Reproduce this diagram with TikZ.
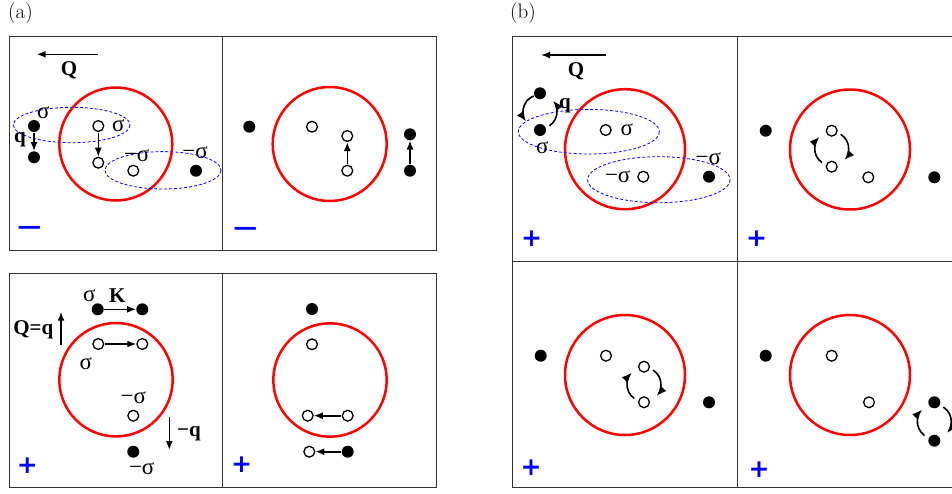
\documentclass[tikz,border=0pt]{standalone}
\usepackage{fontspec}
\newfontfamily\lblfont{Liberation Serif}
\newfontfamily\signfont{DejaVu Sans}
\usetikzlibrary{arrows.meta}

\begin{document}
\begin{tikzpicture}[x=1pt,y=-1pt,
  panel/.style={draw=black!80, line width=1pt},
  ring/.style={draw=red, line width=2.5pt},
  zone/.style={draw=blue, dash pattern=on 3pt off 2pt, line width=0.8pt},
  full/.style={circle, fill=black, minimum size=12pt, inner sep=0pt},
  hollow/.style={circle, draw=black, fill=white, line width=1.3pt, minimum size=10.8pt, inner sep=0pt},
  mv/.style={-{Latex[length=9pt,width=7pt]}, line width=1.6pt, shorten <=0.5pt},
  turn/.style={-{Latex[length=10pt,width=8pt]}, line width=1.6pt},
  lab/.style={font=\lblfont\fontsize{23}{23}\selectfont, inner sep=0pt},
  blab/.style={font=\lblfont\bfseries\fontsize{21}{21}\selectfont, inner sep=0pt},
  plus/.style={text=blue, font=\signfont\bfseries\fontsize{25}{25}\selectfont, inner sep=0pt},
  minus/.style={text=blue, font=\signfont\fontsize{34}{34}\selectfont, inner sep=0pt},
  tag/.style={font=\fontsize{21}{21}\selectfont, inner sep=0pt},
  spincw/.pic={
    \draw[turn] (-235:17) arc[start angle=-235, end angle=-136, radius=17];
    \draw[turn] (-58:17) arc[start angle=-58, end angle=42, radius=17];
  },
  spinccw/.pic={
    \draw[turn] (-112:17) arc[start angle=-112, end angle=-215, radius=17];
    \draw[turn] (56:17) arc[start angle=56, end angle=-40, radius=17];
  },
]
\useasboundingbox (0,0) rectangle (952,493);
\clip (0,0) rectangle (952,493);

% part labels
\node[tag] (ta) at (20.5,13) {(a)};
\node[tag] (tb) at (523,13) {(b)};

% frames of the panels
\draw[panel] (9,36.7) rectangle (436.7,250.7);
\draw[panel] (222.7,36.7) -- (222.7,250.7);
\draw[panel] (9,273.3) rectangle (436.7,487.3);
\draw[panel] (222.7,273.3) -- (222.7,487.3);
\draw[panel] (512.3,36.7) rectangle (962,487.3);
\draw[panel] (737.3,36.7) -- (737.3,487.3);
\draw[panel] (512.3,261.7) -- (962,261.7);

% ---------- (a), upper left ----------
\coordinate (aQs) at (98.3,54.3);
\coordinate (aQe) at (36.7,54.3);
\draw[mv] (aQs) -- (aQe);
\node[blab] (aQ) at (69,70) {Q};
\draw[ring] (115.8,144) circle[radius=56.5];
\draw[zone] (71.7,125) ellipse[x radius=58.3, y radius=17.7];
\draw[zone] (163,170.3) ellipse[x radius=58, y radius=18.7];
\node[full] (a1) at (34,126) {};
\node[full] (a2) at (34,157.3) {};
\draw[mv] (a1) -- (a2);
\node[lab] (as1) at (43.3,112.7) {σ};
\node[blab] (aq) at (20,140) {q};
\node[hollow] (b1) at (98.3,126) {};
\node[hollow] (b2) at (98.3,162.7) {};
\node[hollow] (b3) at (133.3,170.7) {};
\draw[mv] (b1) -- (b2);
\node[lab] (as2) at (118.3,126) {σ};
\node[lab] (as3) at (136.7,155.7) {−σ};
\node[full] (a3) at (196,170.7) {};
\node[lab] (as4) at (195,152.7) {−σ};
\node[minus] (am1) at (30,232.7) {−};

% ---------- (a), upper right ----------
\draw[ring] (329.7,144) circle[radius=57];
\node[full] (c0) at (249.3,126.7) {};
\node[hollow] (c3) at (312,126.7) {};
\node[hollow] (c1) at (347.3,136) {};
\node[hollow] (c2) at (347.3,170.7) {};
\draw[mv] (c2) -- (c1);
\node[full] (d1) at (410,134.3) {};
\node[full] (d2) at (410,170.7) {};
\draw[mv] (d2) -- (d1);
\node[minus] (am2) at (245.3,233) {−};

% ---------- (a), lower left ----------
\node[lab] (es1) at (89.3,296) {σ};
\node[blab] (eK) at (117.3,296) {K};
\node[full] (e1) at (97.7,309.3) {};
\node[full] (e2) at (142.3,309.3) {};
\draw[mv] (e1) -- (e2);
\node[blab] (eQq) at (33.3,329.3) {Q=q};
\coordinate (eUs) at (61,345);
\coordinate (eUe) at (61,311.7);
\draw[mv] (eUs) -- (eUe);
\draw[ring] (116,379.7) circle[radius=56.7];
\node[hollow] (f1) at (98.3,344) {};
\node[hollow] (f2) at (142.3,344) {};
\draw[mv] (f1) -- (f2);
\node[lab] (es2) at (85.7,364) {σ};
\node[lab] (es3) at (133.3,397.7) {−σ};
\node[hollow] (f3) at (133.3,415.7) {};
\coordinate (eDs) at (169.3,416.7);
\coordinate (eDe) at (169.3,450);
\draw[mv] (eDs) -- (eDe);
\node[blab] (eq) at (189,433.3) {−q};
\node[full] (e3) at (133.3,451.7) {};
\node[lab] (es4) at (141.7,469) {−σ};
\node[plus] (ap1) at (27.3,466) {+};

% ---------- (a), lower right ----------
\node[full] (g0) at (312,309) {};
\draw[ring] (330,380) circle[radius=56.7];
\node[hollow] (g5) at (312,344.3) {};
\node[hollow] (g1) at (307.7,415.7) {};
\node[hollow] (g2) at (347.7,415.7) {};
\draw[mv] (g2) -- (g1);
\node[hollow] (g3) at (309.3,451.7) {};
\node[full] (g4) at (347.7,451.7) {};
\draw[mv] (g4) -- (g3);
\node[plus] (ap2) at (241.7,465) {+};

% ---------- (b), upper left ----------
\coordinate (hQs) at (606,55);
\coordinate (hQe) at (541,55);
\draw[mv] (hQs) -- (hQe);
\node[blab] (hQ) at (576,71) {Q};
\draw[ring] (625,149.2) circle[radius=60];
\draw[zone] (588.8,131.7) ellipse[x radius=70.5, y radius=22.3];
\draw[zone] (658.8,179.7) ellipse[x radius=71.2, y radius=23];
\node[full] (h1) at (540,93.3) {};
\node[full] (h2) at (540,130) {};
\pic at (540,111.7) {spinccw};
\node[blab] (hq) at (565,106) {q};
\node[lab] (hs1) at (542.3,147.3) {σ};
\node[hollow] (h3) at (605.7,130) {};
\node[lab] (hs2) at (626.7,129.3) {σ};
\node[lab] (hs3) at (617.7,176.7) {−σ};
\node[hollow] (h4) at (643.3,176.7) {};
\node[full] (h5) at (709,176.7) {};
\node[lab] (hs4) at (708.3,158.3) {−σ};
\node[plus] (bp1) at (531.7,238.3) {+};

% ---------- (b), upper right ----------
\node[full] (i0) at (765.7,130.7) {};
\draw[ring] (850,149.5) circle[radius=60];
\node[hollow] (i1) at (831.7,130.7) {};
\node[hollow] (i2) at (831.7,166.7) {};
\pic at (831.7,148.7) {spincw};
\node[hollow] (i3) at (868.3,177.3) {};
\node[full] (i4) at (934.3,177.3) {};
\node[plus] (bp2) at (756.7,238.3) {+};

% ---------- (b), lower left ----------
\node[full] (j0) at (540.7,355.7) {};
\draw[ring] (625,375) circle[radius=60];
\node[hollow] (j3) at (606,355.7) {};
\node[hollow] (j1) at (644,366.7) {};
\node[hollow] (j2) at (644,402.3) {};
\pic at (644,384.5) {spincw};
\node[full] (j4) at (709,402.3) {};
\node[plus] (bp3) at (531,467.7) {+};

% ---------- (b), lower right ----------
\node[full] (k0) at (765.7,355.7) {};
\draw[ring] (850,375) circle[radius=60];
\node[hollow] (k3) at (831.7,355.7) {};
\node[hollow] (k4) at (869,402.3) {};
\node[full] (k1) at (934.3,402.3) {};
\node[full] (k2) at (934.3,440.7) {};
\pic at (934.3,421.5) {spincw};
\node[plus] (bp4) at (759,470) {+};
\end{tikzpicture}
\end{document}
